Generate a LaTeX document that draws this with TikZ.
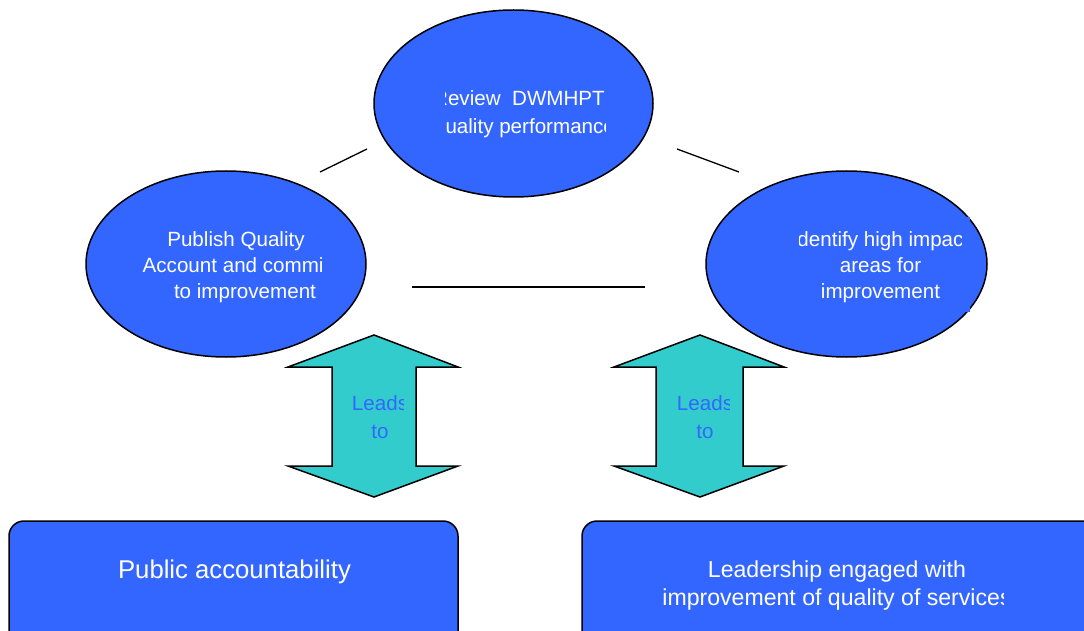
\documentclass[tikz,border=0pt]{standalone}
\usepackage{fontspec}
\usetikzlibrary{shapes.geometric}
\setmainfont{Liberation Sans}
\definecolor{boxblue}{RGB}{51,102,255}
\definecolor{arrowcyan}{RGB}{51,204,204}
\begin{document}
\begin{tikzpicture}[x=1pt,y=-1pt,
  bubble/.style={ellipse, draw=black, line width=1.5pt, fill=boxblue, inner sep=0pt},
  bubbletext/.style={text=white, align=center, inner sep=0pt,
    font=\fontsize{20.6}{26}\selectfont},
  leadtext/.style={text=boxblue, align=center, inner sep=0pt,
    font=\fontsize{20.6}{28}\selectfont},
  outcome/.style={draw=black, line width=1.5pt, fill=boxblue, rounded corners=15pt},
  outtext/.style={text=white, align=center, inner sep=0pt},
  twoway/.style={draw=black, line width=1.5pt, fill=arrowcyan, line join=miter},
  link/.style={draw=black, line width=1.3pt}]
\useasboundingbox (0,0) rectangle (1084,631);

% the three stages of the cycle
\node[bubble, minimum width=279pt, minimum height=187pt] (top) at (513.5,103.5) {};
\node[bubble, minimum width=280pt, minimum height=186pt] (left) at (226,264) {};
\node[bubble, minimum width=281pt, minimum height=186pt] (right) at (846.5,264) {};
\fill[boxblue] (800,217) rectangle (970,312);

\begin{scope}
  \clip (445,80) rectangle (605,145);
  \node[bubbletext, font=\fontsize{20.6}{28}\selectfont] (review) at (524.5,114)
    {Review~ DWMHPT\hspace*{11pt}\\quality performance};
\end{scope}
\begin{scope}
  \clip (120,220) rectangle (321,310);
  \node[bubbletext] (publish) at (236,267) {Publish Quality\\Account and commit\\\hspace*{18pt}to improvement};
\end{scope}
\begin{scope}
  \clip (799,220) rectangle (961,310);
  \node[bubbletext] (identify) at (880.5,267) {Identify high impact\\areas for\\improvement};
\end{scope}

% links between the stages
\coordinate (l1a) at (320,172); \coordinate (l1b) at (367,149);
\coordinate (l2a) at (677,149); \coordinate (l2b) at (739,172);
\coordinate (l3a) at (412,287); \coordinate (l3b) at (645,287);
\draw[link] (l1a) -- (l1b);
\draw[link] (l2a) -- (l2b);
\draw[link] (l3a) -- (l3b);

% double arrows
\draw[twoway] (374,335) -- (458,367) -- (416,367) -- (416,466) -- (458,466)
  -- (374,497) -- (288,466) -- (332,466) -- (332,367) -- (288,367) -- cycle;
\draw[twoway] (700,335) -- (784,367) -- (743,367) -- (743,466) -- (784,466)
  -- (700,497) -- (614,466) -- (656,466) -- (656,367) -- (614,367) -- cycle;
\begin{scope}
  \clip (340,385) rectangle (403,450);
  \node[leadtext] (leadsL) at (380,417) {Leads\\to};
\end{scope}
\begin{scope}
  \clip (665,385) rectangle (729,450);
  \node[leadtext] (leadsR) at (705,417) {Leads\\to};
\end{scope}

% outcomes
\path[outcome] (9,521) rectangle (458,660);
\path[outcome] (582,521) rectangle (1110,660);
\node[outtext, font=\fontsize{25.7}{30}\selectfont] (public) at (234.5,572) {Public accountability};
\begin{scope}
  \clip (600,545) rectangle (1003,620);
  \node[outtext, font=\fontsize{23.1}{28}\selectfont] (leader) at (837,586) {Leadership engaged with\\improvement of quality of services};
\end{scope}
\end{tikzpicture}
\end{document}
